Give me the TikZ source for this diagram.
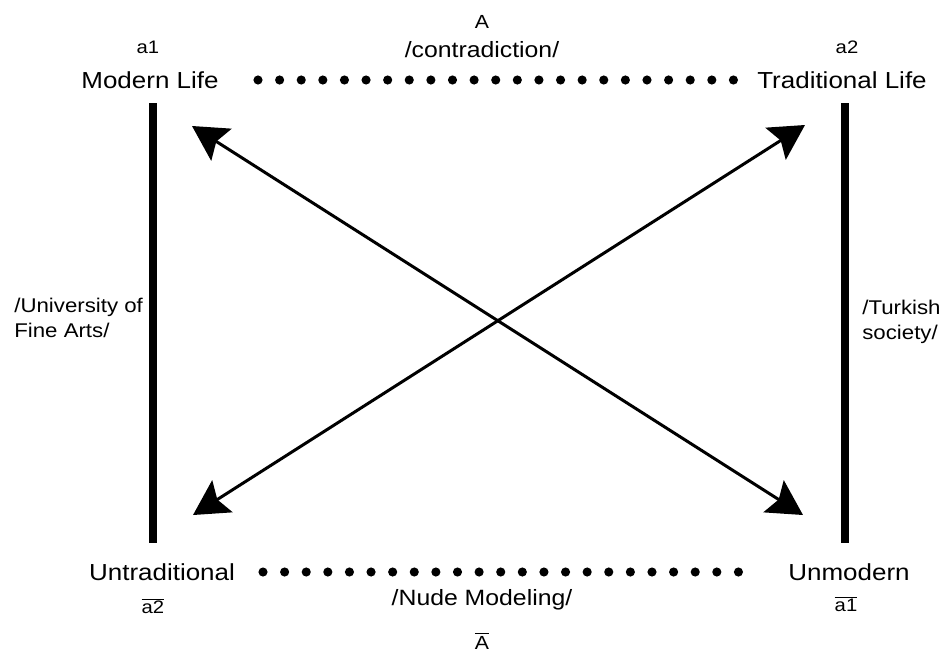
\documentclass[tikz,border=0pt]{standalone}
\usepackage{fontspec}
\setmainfont[FakeStretch=1.12]{Liberation Sans}
\usetikzlibrary{arrows.meta,positioning,calc}

\begin{document}
\begin{tikzpicture}[x=0.02cm,y=-0.02cm,
    term/.style={inner sep=0pt,font=\fontsize{13.2pt}{15pt}\selectfont},
    tag/.style={inner sep=0pt,font=\fontsize{10.3pt}{12pt}\selectfont},
    relation/.style={inner sep=0pt,font=\fontsize{12.6pt}{15pt}\selectfont},
    side/.style={inner sep=0pt,align=left,anchor=west,
                 font=\fontsize{11.3pt}{14.2pt}\selectfont},
    bar/.style={draw,line width=4.2pt},
    dotline/.style={draw,line width=5.2pt,line cap=round,
                    dash pattern=on 0pt off 12.3pt},
    line/.style={draw,line width=1.7pt,
                 {Stealth[length=19.8pt,width=21.5pt,inset=3.4pt]}-{Stealth[length=19.8pt,width=21.5pt,inset=3.4pt]}}]
    \useasboundingbox (0,0) rectangle (946,653);
    % corner terms
    \node[term](ml) at (150,80){Modern Life};
    \node[term](tl) at (842,80){Traditional Life};
    \node[term](ut) at (162,572){Untraditional};
    \node[term](um) at (849,572){Unmodern};
    \node[tag](ta1) at (148,47){a1};
    \node[tag](ta2) at (847,47){a2};
    \node[tag](tna2) at (153,606){$\overline{\mbox{a2}}$};
    \node[tag](tna1) at (846,604){$\overline{\mbox{a1}}$};
    % relations
    \node[tag,font=\fontsize{10.8pt}{12pt}\selectfont](tA) at (482,22){A};
    \node[relation](contr) at (482,50){/contradiction/};
    \node[relation](nude) at (482,600){/Nude Modeling/};
    \node[tag,font=\fontsize{10.8pt}{12pt}\selectfont](tnA) at (482,641){$\overline{\mbox{A}}$};
    \node[side](univ) at (14,318){/University of\\Fine Arts/};
    \node[side](turk) at (862,322){/Turkish\\society/};
    % end points
    \coordinate (lbtop) at (153,103);
    \coordinate (lbbot) at (153,543);
    \coordinate (rbtop) at (845,103);
    \coordinate (rbbot) at (845,543);
    \coordinate (tldot) at (258,80);
    \coordinate (trdot) at (735.5,80);
    \coordinate (bldot) at (263,572);
    \coordinate (brdot) at (742.5,572);
    \coordinate (mltip) at (192,126);
    \coordinate (umtip) at (803,515);
    \coordinate (uttip) at (193,515);
    \coordinate (tltip) at (805,125);
    \draw[bar](lbtop)--(lbbot);
    \draw[bar](rbtop)--(rbbot);
    \draw[dotline](tldot)--(trdot);
    \draw[dotline](bldot)--(brdot);
    \draw[line](mltip)--(umtip);
    \draw[line](uttip)--(tltip);
\end{tikzpicture}
\end{document}
